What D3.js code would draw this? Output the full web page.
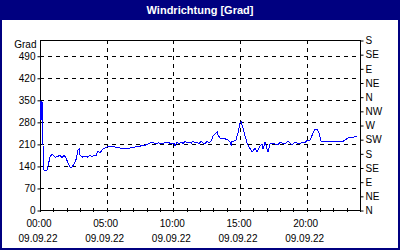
<!DOCTYPE html>
<html><head><meta charset="utf-8">
<script src="https://cdn.jsdelivr.net/npm/d3@7"></script>
<style>body{margin:0;background:#fff}svg{display:block}text{font-family:"Liberation Sans",Arial,sans-serif}</style>
</head><body>
<svg id="c" width="400" height="250"></svg>
<script>
const title = "Windrichtung [Grad]";
const unitLabel = "Grad";
const dateLabel = "09.09.22";
// minutes since 00:00
const minutes = [0,4.5,9,16,22,32,45,54,68,81,90,99,108,117,126,135,140,153,162,171,176,180,189,203,216,225,234,243,252,261,270,284,302,315,338,360,383,405,428,450,473,495,509,518,531,549,563,576,585,594,603,608,617,626,635,644,653,662,671,680,689,698,707,716,725,734,743,752,761,770,779,788,797,801,810,819,833,846,855,860,864,873,882,891,900,905,914,923,932,941,950,954,968,977,990,999,1004,1013,1017,1026,1035,1044,1058,1071,1080,1089,1103,1116,1125,1134,1148,1157,1170,1179,1193,1202,1215,1229,1238,1247,1256,1265,1274,1292,1319,1341,1359,1373,1386,1400,1413,1427];
// wind direction in degrees
const degrees = [348,285,345,130,124,127,168,178,168,170,175,165,175,165,150,137,133,145,160,190,194,175,168,170,168,175,168,175,172,188,182,194,200,201,200,197,194,197,200,203,206,213,215,210,213,212,213,216,212,210,213,204,216,210,216,211,219,213,216,212,219,213,216,210,219,213,210,219,213,219,235,241,248,238,229,226,226,222,216,206,219,219,222,245,276,280,260,235,213,200,190,184,197,184,203,210,194,216,206,184,210,213,210,206,216,213,210,219,213,207,216,213,210,216,213,222,222,245,257,257,245,219,216,219,219,219,216,222,229,229,232,235];
const leftTicks = [0,70,140,210,280,350,420,490];
const rightTicks = [0,45,90,135,180,225,270,315,360,405,450,495,540];
const rightLabels = ["N","NE","E","SE","S","SW","W","NW","N","NE","E","SE","S"];
const hourTicks = [0,5,10,15,20];
const hourLabels = ["00:00","05:00","10:00","15:00","20:00"];

const svg = d3.select("#c");
const navy = "#000080";
svg.append("rect").attr("width",400).attr("height",250).attr("fill",navy);
svg.append("rect").attr("x",2).attr("y",20).attr("width",396).attr("height",228).attr("fill","#fff");
svg.append("text").attr("x",200).attr("y",14).attr("text-anchor","middle")
  .attr("fill","#fff").attr("font-weight","bold").attr("font-size","11px").text(title);

const L=40,R=360,T=40,B=210;
const x = d3.scaleLinear().domain([0,24*60]).range([L,R]);
const y = d3.scaleLinear().domain([0,540]).range([B,T]);

const g = svg.append("g").attr("shape-rendering","crispEdges");
// horizontal grid
g.selectAll("line.hg").data(leftTicks.filter(d=>d>0)).join("line")
  .attr("x1",L).attr("x2",R).attr("y1",d=>Math.round(y(d))+0.5).attr("y2",d=>Math.round(y(d))+0.5)
  .attr("stroke","#000").attr("stroke-dasharray","4,4");
// vertical grid
g.selectAll("line.vg").data(hourTicks.filter(d=>d>0)).join("line")
  .attr("x1",d=>Math.round(x(d*60))+0.5).attr("x2",d=>Math.round(x(d*60))+0.5).attr("y1",T).attr("y2",B)
  .attr("stroke","#000").attr("stroke-dasharray","4,4");

// data line
const data = minutes.map((m,i)=>[m,degrees[i]]);
svg.append("path").datum(data)
  .attr("d",d3.line().x(d=>x(d[0])).y(d=>y(d[1])))
  .attr("fill","none").attr("stroke","#0000ff").attr("stroke-width",1)
  .attr("shape-rendering","crispEdges");

// frame
g.append("rect").attr("x",L+0.5).attr("y",T+0.5).attr("width",R-L).attr("height",B-T)
  .attr("fill","none").attr("stroke","#000");

// left axis
const la = d3.axisLeft(y).tickValues(leftTicks).tickSize(3).tickPadding(2).tickFormat(d3.format("d"));
const lag = svg.append("g").attr("transform",`translate(${L+0.5},0.5)`).call(la);
lag.select(".domain").remove();
lag.selectAll("text").attr("font-size","10px").attr("font-family","Liberation Sans, Arial, sans-serif").attr("fill","#000");
svg.append("text").attr("x",36.5).attr("y",47.5).attr("text-anchor","end").attr("font-size","10px").text(unitLabel);

// right axis
const ra = d3.axisRight(y).tickValues(rightTicks).tickSize(3).tickPadding(2).tickFormat((d,i)=>rightLabels[i]);
const rag = svg.append("g").attr("transform",`translate(${R+0.5},0.5)`).call(ra);
rag.select(".domain").remove();
rag.selectAll("text").attr("font-size","10px").attr("font-family","Liberation Sans, Arial, sans-serif").attr("fill","#000");

// bottom minor ticks
const hours = d3.range(0,25);
g.selectAll("line.mt").data(hours).join("line")
  .attr("x1",d=>Math.round(x(d*60))+0.5).attr("x2",d=>Math.round(x(d*60))+0.5)
  .attr("y1",B-2).attr("y2",B+2).attr("stroke","#000");

// bottom labels
const bl = svg.append("g");
bl.selectAll("text.t").data(hourTicks).join("text")
  .attr("x",d=>x(d*60)-1).attr("y",227).attr("text-anchor","middle").attr("font-size","10px")
  .text((d,i)=>hourLabels[i]);
bl.selectAll("text.d").data(hourTicks).join("text")
  .attr("x",d=>x(d*60)-2).attr("y",242).attr("text-anchor","middle").attr("font-size","10px")
  .text(dateLabel);
</script>
</body></html>
